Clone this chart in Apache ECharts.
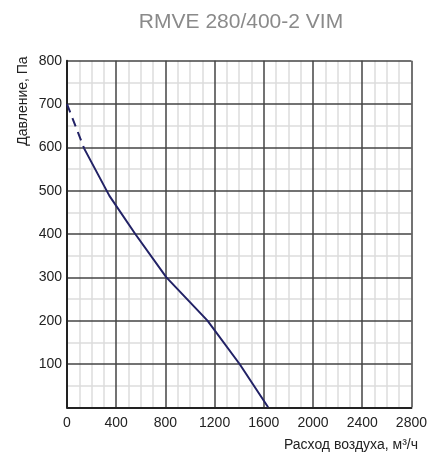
<!DOCTYPE html>
<html>
<head>
<meta charset="utf-8">
<script src="https://cdn.jsdelivr.net/npm/echarts@6/dist/echarts.min.js"></script>
<style>html,body{margin:0;padding:0;background:#fff}#c{width:430px;height:459px}</style>
</head>
<body>
<div id="c"></div>
<script>
var titleText = 'RMVE 280/400-2 VIM';
var xName = 'Расход воздуха, м³/ч';
var yName = 'Давление, Па';
var flowDashed = [0, 140];
var pressureDashed = [700, 597];
var flowSolid = [140, 345, 555, 808, 1142, 1403, 1635];
var pressureSolid = [597, 488, 400, 300, 200, 100, 0];
var xTicks = [0, 400, 800, 1200, 1600, 2000, 2400, 2800];
var yTicks = [100, 200, 300, 400, 500, 600, 700, 800];

function pairs(xs, ys) { return xs.map(function (x, i) { return [x, ys[i]]; }); }

var font = 'Liberation Sans, Arial, sans-serif';
var lineColor = '#222266';
var xMin = xTicks[0], xMax = xTicks[xTicks.length - 1];
var yMin = 0, yMax = yTicks[yTicks.length - 1];
var chart = echarts.init(document.getElementById('c'), null, {renderer: 'canvas'});
chart.setOption({
  animation: false,
  title: {
    text: titleText, left: 236, top: 7, textAlign: 'center',
    textStyle: {color: '#8a8a8a', fontSize: 21, fontWeight: 'normal', fontFamily: font}
  },
  grid: {left: 67, right: 11.5, top: 60.7, bottom: 51.7, containLabel: false},
  graphic: [
    {type: 'text', x: 23, y: 101, rotation: Math.PI / 2,
     style: {text: yName, fill: '#222', font: '14px ' + font, textAlign: 'center', textVerticalAlign: 'middle'}},
    {type: 'text', right: 12, top: 438,
     style: {text: xName, fill: '#222', font: '14px ' + font}}
  ],
  xAxis: [{
    type: 'value', min: xMin, max: xMax, interval: 400, z: 0,
    axisLine: {show: false},
    axisTick: {show: false},
    axisLabel: {color: '#222', fontSize: 14, fontFamily: font, margin: 9,
      formatter: function (v) { return String(v); }},
    splitLine: {show: false},
    minorTick: {show: false, splitNumber: 4},
    minorSplitLine: {show: true, lineStyle: {color: '#dcdcdc', width: 1.5, type: 'solid'}}
  }, {
    type: 'value', min: xMin, max: xMax, interval: 400, z: 2, position: 'bottom',
    axisLine: {show: true, onZero: false, lineStyle: {color: '#222', width: 2}},
    axisTick: {show: false}, axisLabel: {show: false},
    splitLine: {show: true, lineStyle: {color: '#444', width: 1.5, type: 'solid'}}
  }],
  yAxis: [{
    type: 'value', min: yMin, max: yMax, interval: 100, z: 0,
    axisLine: {show: false},
    axisTick: {show: false},
    axisLabel: {color: '#222', fontSize: 14, fontFamily: font, margin: 5,
      formatter: function (v) { return yTicks.indexOf(v) >= 0 ? String(v) : ''; }},
    splitLine: {show: false},
    minorTick: {show: false, splitNumber: 2},
    minorSplitLine: {show: true, lineStyle: {color: '#dcdcdc', width: 1.5, type: 'solid'}}
  }, {
    type: 'value', min: yMin, max: yMax, interval: 100, z: 2, position: 'left',
    axisLine: {show: true, onZero: false, lineStyle: {color: '#222', width: 2}},
    axisTick: {show: false}, axisLabel: {show: false},
    splitLine: {show: true, lineStyle: {color: '#444', width: 1.5, type: 'solid'}}
  }],
  series: [
    {type: 'line', z: 5, data: pairs(flowDashed, pressureDashed), showSymbol: false, symbol: 'none',
     lineStyle: {color: lineColor, width: 2, type: [9, 6]}},
    {type: 'line', z: 5, data: pairs(flowSolid, pressureSolid), showSymbol: false, symbol: 'none',
     lineStyle: {color: lineColor, width: 2}}
  ]
});
</script>
</body>
</html>
